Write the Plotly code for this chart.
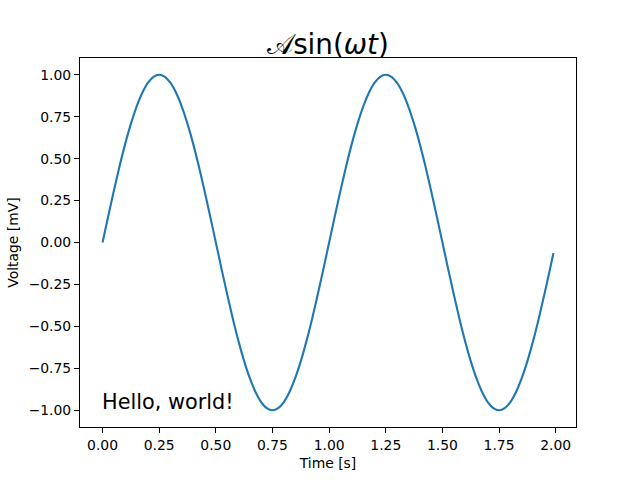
import plotly.graph_objects as go

time_s = [0.000, 0.025, 0.050, 0.075, 0.100, 0.125, 0.150, 0.175, 0.200, 0.225,
          0.250, 0.275, 0.300, 0.325, 0.350, 0.375, 0.400, 0.425, 0.450, 0.475,
          0.500, 0.525, 0.550, 0.575, 0.600, 0.625, 0.650, 0.675, 0.700, 0.725,
          0.750, 0.775, 0.800, 0.825, 0.850, 0.875, 0.900, 0.925, 0.950, 0.975,
          1.000, 1.025, 1.050, 1.075, 1.100, 1.125, 1.150, 1.175, 1.200, 1.225,
          1.250, 1.275, 1.300, 1.325, 1.350, 1.375, 1.400, 1.425, 1.450, 1.475,
          1.500, 1.525, 1.550, 1.575, 1.600, 1.625, 1.650, 1.675, 1.700, 1.725,
          1.750, 1.775, 1.800, 1.825, 1.850, 1.875, 1.900, 1.925, 1.950, 1.975, 1.990]
voltage_mv = [0.000, 0.156, 0.309, 0.454, 0.588, 0.707, 0.809, 0.891, 0.951, 0.988,
              1.000, 0.988, 0.951, 0.891, 0.809, 0.707, 0.588, 0.454, 0.309, 0.156,
              0.000, -0.156, -0.309, -0.454, -0.588, -0.707, -0.809, -0.891, -0.951, -0.988,
              -1.000, -0.988, -0.951, -0.891, -0.809, -0.707, -0.588, -0.454, -0.309, -0.156,
              0.000, 0.156, 0.309, 0.454, 0.588, 0.707, 0.809, 0.891, 0.951, 0.988,
              1.000, 0.988, 0.951, 0.891, 0.809, 0.707, 0.588, 0.454, 0.309, 0.156,
              0.000, -0.156, -0.309, -0.454, -0.588, -0.707, -0.809, -0.891, -0.951, -0.988,
              -1.000, -0.988, -0.951, -0.891, -0.809, -0.707, -0.588, -0.454, -0.309, -0.156, -0.063]

x_ticks = [0.00, 0.25, 0.50, 0.75, 1.00, 1.25, 1.50, 1.75, 2.00]
y_ticks = [-1.00, -0.75, -0.50, -0.25, 0.00, 0.25, 0.50, 0.75, 1.00]

font = "DejaVu Sans"

fig = go.Figure()
fig.add_trace(go.Scatter(x=time_s, y=voltage_mv, mode="lines",
                         line=dict(color="#1f77b4", width=2.1, shape="spline", smoothing=1.0),
                         showlegend=False, hoverinfo="skip"))

fig.add_annotation(x=0, y=-1, xref="x", yref="y", text="Hello, world!",
                   showarrow=False, xanchor="left", yanchor="bottom", yshift=-6, xshift=-3,
                   font=dict(family=font, size=20.8, color="black"))

axis_common = dict(showline=True, linecolor="black", linewidth=1, mirror=True,
                   ticks="outside", ticklen=5, tickwidth=1, tickcolor="black",
                   showgrid=False, zeroline=False, tickformat=".2f",
                   tickfont=dict(family=font, size=13.9, color="black"))

fig.update_xaxes(range=[-0.0995, 2.0895], tickvals=x_ticks,
                 title=dict(text="Time [s]", font=dict(family=font, size=13.9, color="black"), standoff=6),
                 **axis_common)
fig.update_yaxes(range=[-1.1, 1.1], tickvals=y_ticks,
                 title=dict(text="Voltage [mV]", font=dict(family=font, size=13.9, color="black"), standoff=6),
                 **axis_common)

fig.update_layout(
    width=640, height=480,
    margin=dict(l=80, r=64, t=58, b=53),
    paper_bgcolor="white", plot_bgcolor="white",
    title=dict(text="𝒜sin(<i>ωt</i>)", x=0.5, xanchor="center", xref="paper",
               y=1, yref="paper", yanchor="bottom", pad=dict(b=4),
               font=dict(family=font, size=27.8, color="black")),
)

fig.write_html("out.html", config={"displayModeBar": False},
               post_script="document.body.style.margin='0';document.body.style.padding='0';")
